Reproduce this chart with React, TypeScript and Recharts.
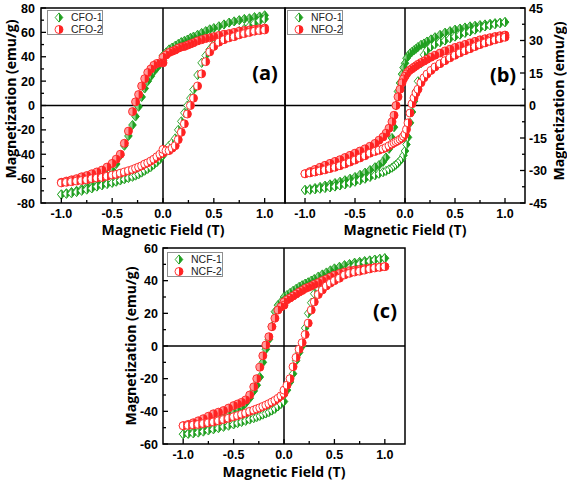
import React from 'react';
import { ScatterChart, Scatter, XAxis, YAxis, ReferenceLine, ReferenceArea, Legend } from 'recharts';

const GREEN = '#1f9f1f';
const RED = '#ff2323';
const GREEN_TINT = '#8fd08f';
const RED_TINT = '#ff9a9a';
const FONT = '"Open Sans", "DejaVu Sans", sans-serif';
const TICK_FONT = '"Liberation Sans", Arial, sans-serif';
const LEGEND_FONT = '"Liberation Sans", Arial, sans-serif';

// ---- axis ticks ----
const X_TICKS = [-1, -0.75, -0.5, -0.25, 0, 0.25, 0.5, 0.75, 1];
const X_MAJOR = [-1, -0.5, 0, 0.5, 1];
const YA_TICKS = [-80, -70, -60, -50, -40, -30, -20, -10, 0, 10, 20, 30, 40, 50, 60, 70, 80];
const YA_MAJOR = [-80, -60, -40, -20, 0, 20, 40, 60, 80];
const YB_TICKS = [-45, -37.5, -30, -22.5, -15, -7.5, 0, 7.5, 15, 22.5, 30, 37.5, 45];
const YB_MAJOR = [-45, -30, -15, 0, 15, 30, 45];
const YC_TICKS = [-60, -50, -40, -30, -20, -10, 0, 10, 20, 30, 40, 50, 60];
const YC_MAJOR = [-60, -40, -20, 0, 20, 40, 60];

// ---- magnetic field (T), listed from +1 down to -1 ----
const FIELD_AC = [1, 0.95, 0.9, 0.85, 0.8, 0.75, 0.7, 0.65, 0.6, 0.55, 0.5, 0.46, 0.42, 0.38, 0.34, 0.3, 0.27, 0.24, 0.21, 0.18, 0.15, 0.12, 0.09, 0.06, 0.03, 0, 0, -0.03, -0.06, -0.09, -0.12, -0.15, -0.18, -0.21, -0.24, -0.27, -0.3, -0.34, -0.38, -0.42, -0.46, -0.5, -0.55, -0.6, -0.65, -0.7, -0.75, -0.8, -0.85, -0.9, -0.95, -1];
const FIELD_B = [1, 0.95, 0.9, 0.85, 0.8, 0.75, 0.7, 0.65, 0.6, 0.55, 0.5, 0.45, 0.4, 0.35, 0.3, 0.26, 0.22, 0.19, 0.16, 0.13, 0.11, 0.09, 0.07, 0.05, 0.03, 0.015, 0, -0.015, -0.03, -0.05, -0.07, -0.09, -0.11, -0.13, -0.16, -0.19, -0.22, -0.26, -0.3, -0.35, -0.4, -0.45, -0.5, -0.55, -0.6, -0.65, -0.7, -0.75, -0.8, -0.85, -0.9, -0.95, -1];

// ---- (a) CFO: magnetization (emu/g), descending-field and ascending-field branches ----
const CFO1_DOWN = [74, 73, 72.5, 71.5, 71, 70, 69, 68, 66.5, 65, 63.5, 62.5, 61, 59.5, 58, 56.5, 55.5, 54, 53, 52, 50.5, 49, 47.5, 46, 43.5, 41, 37, 34, 31, 28, 24, 20, 14, 7, -1, -9, -16, -25, -33, -41, -48, -53, -57.5, -61, -63.5, -65.5, -67, -68.5, -70, -71, -72, -73];
const CFO1_UP = [71, 69.5, 67.5, 65, 63, 61, 58.5, 57, 55, 53, 50, 46, 41, 35, 25, 13, 6, 0, -6, -13, -20, -27, -30.5, -33, -36, -38, -41, -44, -46.5, -48.5, -50.5, -52, -53.5, -55, -56.5, -57.5, -58.5, -59.5, -60.5, -61.5, -62.5, -63.5, -64.5, -65.5, -66.5, -68, -69, -70, -71, -72, -72.5, -73];
const CFO2_DOWN = [63.5, 63, 62.5, 62, 61.5, 61, 60, 59, 58.5, 57.5, 56.5, 55.5, 55, 54, 53, 51.5, 50.5, 49.5, 48.5, 48, 47, 45.5, 44.5, 43.5, 41.5, 39.5, 35, 35, 34.5, 33, 30, 27, 22, 16, 9, 3, -5, -21, -31, -40, -44, -47.5, -50.5, -53, -54.5, -56, -57.5, -58.5, -60, -61, -62, -63];
const CFO2_UP = [62, 61.5, 61, 60, 59, 58, 56.5, 55.5, 54, 52, 48.5, 44, 36, 26, 16, 6, 0, -7, -15, -22, -28, -33, -35, -37, -37, -36, -39, -40, -42, -44, -45.5, -47, -48, -49.5, -50.5, -51.5, -52.5, -53.5, -54.5, -55.5, -56.5, -57, -58, -59, -59.5, -60, -61, -61.5, -62, -62.5, -63, -63.5];

// ---- (b) NFO ----
const NFO1_DOWN = [38.5, 38.2, 38, 37.7, 37.4, 37.1, 36.8, 36.5, 36, 35.5, 35, 34.3, 33.6, 32.6, 31.5, 30.5, 29.5, 28.6, 28, 27, 26.2, 25.5, 24.8, 24, 22.8, 21.8, 19.5, 17.5, 14.5, 10.4, 6.5, 0, -10, -15, -20, -24, -26, -27.5, -28.5, -29.8, -31, -32, -33, -33.8, -34.5, -35.2, -35.8, -36.4, -37, -37.6, -38.1, -38.6, -39];
const NFO1_UP = [38.5, 38, 37.5, 37, 36.5, 35.8, 35, 34.2, 33.5, 32.7, 31.8, 31, 30, 29.2, 28.3, 27.2, 25.5, 23.4, 19.5, 11.2, 6.6, 2, -3, -8, -14.7, -18, -21, -23, -24.5, -25.5, -26.5, -27.3, -28, -28.7, -29.5, -30.2, -30.8, -31.5, -32.2, -33, -33.8, -34.5, -35.2, -35.8, -36.4, -36.9, -37.4, -37.8, -38.1, -38.4, -38.7, -38.9, -39];
const NFO2_DOWN = [32.5, 32.2, 31.8, 31.3, 30.8, 30.3, 29.6, 28.9, 28.2, 27.5, 26.8, 26, 25.2, 24.2, 23.2, 22.3, 21.3, 20.5, 19.8, 19, 18.3, 17.7, 17, 16.4, 15.6, 14.6, 13.5, 12.3, 10.5, 7.5, 4, 0, -4.5, -7.5, -10.5, -12.8, -14.5, -16, -17.5, -18.8, -20, -21, -22, -23, -24, -25, -25.8, -26.7, -27.6, -28.5, -29.5, -30.5, -31.5];
const NFO2_UP = [31.5, 30.9, 30.3, 29.6, 28.9, 28.1, 27.2, 26.2, 25.3, 24.3, 23.2, 22, 20.7, 19.3, 17.8, 16.2, 14.5, 12.8, 10.5, 7.5, 5.8, 3.5, 0.8, -3.5, -8, -11, -13.2, -14.2, -15, -15.6, -16.2, -16.7, -17.2, -17.8, -18.6, -19.4, -20, -20.6, -21.2, -22, -23.2, -24.2, -25.2, -26.1, -27, -27.8, -28.5, -29.1, -29.7, -30.2, -30.7, -31.1, -31.5];

// ---- (c) NCF ----
const NCF1_DOWN = [53.7, 53.3, 52.9, 52.4, 52, 51.5, 51, 50.2, 49.5, 48.5, 47.5, 46.3, 45, 43.8, 42.5, 41, 40, 39, 38.2, 37.2, 36.2, 35, 33.8, 32.5, 31.2, 30, 28, 27, 25, 21, 12, 4, -2, -10, -19, -24, -27.5, -32, -35, -37.5, -39, -40.5, -42, -44, -45.5, -47, -48.5, -50, -51.2, -52.3, -53.2, -54];
const NCF1_UP = [53.7, 53.2, 52.7, 52, 51.2, 50.2, 49, 47.8, 46, 44.5, 43, 41.7, 40, 38.4, 35.5, 32, 26.5, 20, 11, 0, -4, -9, -17, -22, -27, -30, -34, -35.5, -37, -38.5, -39.5, -40.5, -41.3, -42, -42.8, -43.5, -44.2, -45, -45.8, -46.5, -47.2, -48, -48.8, -49.5, -50.3, -51, -51.7, -52.4, -53, -53.5, -53.8, -54];
const NCF2_DOWN = [48.6, 48.3, 48, 47.7, 47.3, 46.9, 46.5, 46, 45.3, 44.4, 43.4, 42.2, 41, 40, 38.8, 37.7, 36.7, 35.9, 35.2, 34, 33, 31.8, 30.6, 29.4, 28.3, 27, 25, 24, 22, 17, 11.8, 5.7, 0.6, -6, -13, -20, -25, -30, -33, -34.5, -35.5, -36.5, -38, -39.5, -40.5, -41.5, -43, -44.5, -45.8, -47, -48, -48.8];
const NCF2_UP = [48.6, 48.2, 47.8, 47.2, 46.5, 45.8, 45.3, 44.5, 43.5, 41.5, 40, 38.5, 36.8, 34.3, 31.5, 27, 22, 14, 7, 2, -2, -7, -12.7, -20, -24, -27, -29, -30.5, -32, -33.3, -34.3, -35.3, -36.2, -37, -37.8, -38.5, -39.2, -40, -41, -41.8, -42.6, -43.3, -44.2, -45, -45.8, -46.5, -47, -47.5, -48, -48.3, -48.6, -48.8];

type Pt = { h: number; m: number };
const toPoints = (field: number[], mag: number[]): Pt[] => field.map((h, i) => ({ h, m: mag[i] }));

// half-filled markers: right half coloured, left half open
function Marker({ kind, cx, cy, color, open }: { kind: string; cx: number; cy: number; color: string; open: string }) {
  if (cx == null || cy == null) return null;
  if (kind === 'diamond') {
    const w = 3.8, h = 4.6;
    return (
      <g>
        <path d={`M${cx},${cy - h}L${cx + w},${cy}L${cx},${cy + h}L${cx - w},${cy}Z`} fill={open} stroke={color} strokeWidth={0.9} />
        <path d={`M${cx},${cy - h}L${cx + w},${cy}L${cx},${cy + h}Z`} fill={color} />
      </g>
    );
  }
  const r = 4;
  return (
    <g>
      <circle cx={cx} cy={cy} r={r} fill={open} stroke={color} strokeWidth={0.9} />
      <path d={`M${cx},${cy - r}A${r},${r} 0 0 1 ${cx},${cy + r}Z`} fill={color} />
    </g>
  );
}

const makeShape = (kind: string, color: string, open: string) => (p: any) => <Marker kind={kind} cx={p.cx} cy={p.cy} color={color} open={open} />;

const near = (list: number[], v: number) => list.some((m) => Math.abs(m - v) < 1e-9);

const makeTick = (orient: 'bottom' | 'left' | 'right', gap: number, majors: number[], fmt: (v: number) => string) => (props: any) => {
  const { x, y, payload } = props;
  const v = payload.value;
  const major = near(majors, v);
  const len = major ? 5 : 3;
  let line: React.ReactNode;
  let text: React.ReactNode = null;
  const style = { fontFamily: TICK_FONT, fontWeight: 700, fontSize: 12.5 } as React.CSSProperties;
  if (orient === 'bottom') {
    const ay = y - gap;
    line = <line x1={x} y1={ay} x2={x} y2={ay - len} stroke="#000" strokeWidth={1.3} />;
    if (major) text = <text x={x} y={y} dy="0.71em" textAnchor="middle" fill="#000" style={style}>{fmt(v)}</text>;
  } else if (orient === 'left') {
    const ax = x + gap;
    line = <line x1={ax} y1={y} x2={ax + len} y2={y} stroke="#000" strokeWidth={1.3} />;
    if (major) text = <text x={x} y={y} dy="0.36em" textAnchor="end" fill="#000" style={style}>{fmt(v)}</text>;
  } else {
    const ax = x - gap;
    line = <line x1={ax} y1={y} x2={ax - len} y2={y} stroke="#000" strokeWidth={1.3} />;
    if (major) text = <text x={x} y={y} dy="0.36em" textAnchor="start" fill="#000" style={style}>{fmt(v)}</text>;
  }
  return <g>{line}{text}</g>;
};

const fmtX = (v: number) => v.toFixed(1);
const fmtY = (v: number) => String(v);

const legendContent = (props: any) => {
  const items = (props.payload || []).filter((e: any) => e.type !== 'none');
  return (
    <div style={{ position: 'relative', width: 56, height: 25, border: '1px solid #8f8f8f', background: '#fff', boxSizing: 'border-box' }}>
      {items.map((e: any, i: number) => (
        <div key={i} style={{ position: 'absolute', left: 0, top: 1 + i * 11.5, width: 56, height: 11, display: 'flex', alignItems: 'center', whiteSpace: 'nowrap' }}>
          <svg width={23} height={11} style={{ flex: 'none' }}>
            <Marker kind={e.type} cx={11} cy={5.5} color={e.color} open="#fff" />
          </svg>
          <span style={{ fontFamily: LEGEND_FONT, fontSize: 10.5, color: '#222', lineHeight: '11px', whiteSpace: 'nowrap' }}>{e.value}</span>
        </div>
      ))}
    </div>
  );
};

type Series = { name: string; kind: string; color: string; tint: string; down: number[]; up: number[] };
type PanelCfg = {
  left: number; top: number; width: number; height: number;
  margin: { top: number; right: number; bottom: number; left: number };
  yOrient: 'left' | 'right'; yWidth: number; yGap: number;
  yDomain: [number, number]; yTicks: number[]; yMajor: number[];
  field: number[]; series: Series[];
  legend: { left: number; top: number };
  xTitle: { x: number; y: number }; yTitle: { x: number; y: number };
  tag: string; tagPos: { x: number; y: number };
};

const PANELS: PanelCfg[] = [
  {
    left: 0, top: 0, width: 300, height: 240,
    margin: { top: 8, right: 15, bottom: 0, left: 0 },
    yOrient: 'left', yWidth: 41, yGap: 6,
    yDomain: [-80, 80], yTicks: YA_TICKS, yMajor: YA_MAJOR,
    field: FIELD_AC,
    series: [
      { name: 'CFO-1', kind: 'diamond', color: GREEN, tint: GREEN_TINT, down: CFO1_DOWN, up: CFO1_UP },
      { name: 'CFO-2', kind: 'circle', color: RED, tint: RED_TINT, down: CFO2_DOWN, up: CFO2_UP },
    ],
    legend: { left: 47, top: 10 },
    xTitle: { x: 163, y: 235 }, yTitle: { x: 10, y: 99 },
    tag: '(a)', tagPos: { x: 265, y: 73 },
  },
  {
    left: 280, top: 0, width: 287, height: 240,
    margin: { top: 8, right: 0, bottom: 0, left: 5 },
    yOrient: 'right', yWidth: 42, yGap: 4,
    yDomain: [-45, 45], yTicks: YB_TICKS, yMajor: YB_MAJOR,
    field: FIELD_B,
    series: [
      { name: 'NFO-1', kind: 'diamond', color: GREEN, tint: GREEN_TINT, down: NFO1_DOWN, up: NFO1_UP },
      { name: 'NFO-2', kind: 'circle', color: RED, tint: RED_TINT, down: NFO2_DOWN, up: NFO2_UP },
    ],
    legend: { left: 7, top: 10 },
    xTitle: { x: 125, y: 235 }, yTitle: { x: 278, y: 101 },
    tag: '(b)', tagPos: { x: 503, y: 75 },
  },
  {
    left: 110, top: 240, width: 320, height: 241,
    margin: { top: 8, right: 25, bottom: 0, left: 0 },
    yOrient: 'left', yWidth: 53, yGap: 5,
    yDomain: [-60, 60], yTicks: YC_TICKS, yMajor: YC_MAJOR,
    field: FIELD_AC,
    series: [
      { name: 'NCF-1', kind: 'diamond', color: GREEN, tint: GREEN_TINT, down: NCF1_DOWN, up: NCF1_UP },
      { name: 'NCF-2', kind: 'circle', color: RED, tint: RED_TINT, down: NCF2_DOWN, up: NCF2_UP },
    ],
    legend: { left: 57, top: 12 },
    xTitle: { x: 174, y: 237 }, yTitle: { x: 20, y: 106 },
    tag: '(c)', tagPos: { x: 385, y: 311 },
  },
];

const titleStyle: React.CSSProperties = { fontFamily: FONT, fontWeight: 700, fontSize: 14 };

function Panel({ cfg }: { cfg: PanelCfg }) {
  const xTitle = () => (
    <text x={cfg.xTitle.x} y={cfg.xTitle.y} textAnchor="middle" fill="#000" style={titleStyle}>Magnetic Field (T)</text>
  );
  const yTitle = () => (
    <text x={cfg.yTitle.x} y={cfg.yTitle.y} transform={`rotate(-90 ${cfg.yTitle.x} ${cfg.yTitle.y})`} textAnchor="middle" dominantBaseline="central" fill="#000" style={titleStyle}>Magnetization (emu/g)</text>
  );
  return (
    <div style={{ position: 'absolute', left: cfg.left, top: cfg.top, width: cfg.width, height: cfg.height }}>
      <ScatterChart width={cfg.width} height={cfg.height} margin={cfg.margin}>
        <XAxis type="number" dataKey="h" domain={[-1.2, 1.2]} ticks={X_TICKS} interval={0} allowDataOverflow
          height={37} tickSize={0} tickMargin={6} axisLine={false} tickLine={false}
          tick={makeTick('bottom', 6, X_MAJOR, fmtX)} label={{ content: xTitle }} />
        <YAxis type="number" dataKey="m" orientation={cfg.yOrient} width={cfg.yWidth} domain={cfg.yDomain} ticks={cfg.yTicks} interval={0} allowDataOverflow
          tickSize={0} tickMargin={cfg.yGap} axisLine={false} tickLine={false}
          tick={makeTick(cfg.yOrient, cfg.yGap, cfg.yMajor, fmtY)} label={{ content: yTitle }} />
        <ReferenceArea x1={-1.2} x2={1.2} y1={cfg.yDomain[0]} y2={cfg.yDomain[1]} fill="none" fillOpacity={0} stroke="#000" strokeWidth={1.5} strokeOpacity={1} />
        <ReferenceLine x={0} stroke="#000" strokeWidth={1.5} />
        <ReferenceLine y={0} stroke="#000" strokeWidth={1.5} />
        {cfg.series.map((s) => (
          <React.Fragment key={s.name}>
            <Scatter name={s.name} data={toPoints(cfg.field, s.down)} fill={s.color} legendType={s.kind as any}
              shape={makeShape(s.kind, s.color, s.tint)} isAnimationActive={false} />
            <Scatter name={s.name + ' up'} data={toPoints(cfg.field, s.up).reverse()} fill={s.color} legendType="none"
              shape={makeShape(s.kind, s.color, '#fff')} isAnimationActive={false} />
          </React.Fragment>
        ))}
        <Legend layout="horizontal" align="center" verticalAlign="middle" content={legendContent}
          wrapperStyle={{ left: cfg.legend.left, top: cfg.legend.top, width: 'auto', height: 'auto' }} />
      </ScatterChart>
    </div>
  );
}

export default function App() {
  return (
    <div style={{ position: 'absolute', left: 0, top: 0, width: 567, height: 481, background: '#fff', overflow: 'hidden' }}>
      {PANELS.map((p) => <Panel key={p.tag} cfg={p} />)}
      {PANELS.map((p) => (
        <div key={'tag' + p.tag} style={{ position: 'absolute', left: p.tagPos.x, top: p.tagPos.y, transform: 'translate(-50%, -50%)', fontFamily: FONT, fontWeight: 700, fontSize: 20, lineHeight: 1, color: '#000', whiteSpace: 'nowrap' }}>{p.tag}</div>
      ))}
    </div>
  );
}
